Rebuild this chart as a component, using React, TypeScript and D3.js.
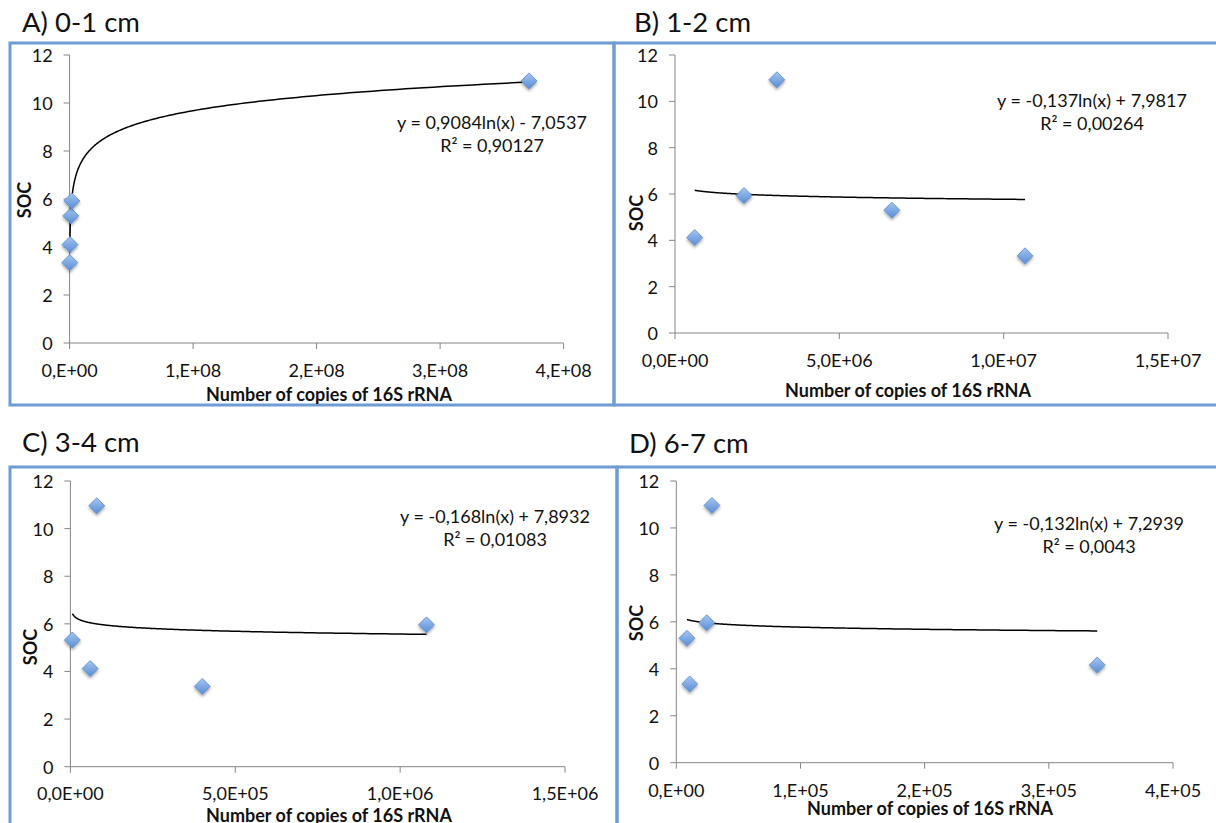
import * as d3 from "d3";

// SOC vs number of copies of 16S rRNA, four soil depths
const Y_TICKS = [0, 2, 4, 6, 8, 10, 12];

const A_COPIES = [1.5e5, 3.0e5, 1.0e6, 1.8e6, 3.72e8];
const A_SOC = [3.35, 4.1, 5.3, 5.92, 10.92];
const A_FIT = [0.9084, -7.0537];
const A_X_TICKS = [0, 1e8, 2e8, 3e8, 4e8];
const A_X_LABELS = ["0,E+00", "1,E+08", "2,E+08", "3,E+08", "4,E+08"];

const B_COPIES = [6.0e5, 2.1e6, 3.1e6, 6.6e6, 1.065e7];
const B_SOC = [4.12, 5.93, 10.93, 5.3, 3.33];
const B_FIT = [-0.137, 7.9817];
const B_X_TICKS = [0, 5e6, 1e7, 1.5e7];
const B_X_LABELS = ["0,0E+00", "5,0E+06", "1,0E+07", "1,5E+07"];

const C_COPIES = [6.0e3, 6.0e4, 8.0e4, 4.0e5, 1.08e6];
const C_SOC = [5.32, 4.12, 10.96, 3.37, 5.96];
const C_FIT = [-0.168, 7.8932];
const C_X_TICKS = [0, 5e5, 1e6, 1.5e6];
const C_X_LABELS = ["0,0E+00", "5,0E+05", "1,0E+06", "1,5E+06"];

const D_COPIES = [8.6e3, 1.08e4, 2.45e4, 2.87e4, 3.39e5];
const D_SOC = [5.3, 3.35, 5.96, 10.96, 4.16];
const D_FIT = [-0.132, 7.2939];
const D_X_TICKS = [0, 1e5, 2e5, 3e5, 4e5];
const D_X_LABELS = ["0,E+00", "1,E+05", "2,E+05", "3,E+05", "4,E+05"];

const TITLES = ["A) 0-1 cm", "B) 1-2 cm", "C) 3-4 cm", "D) 6-7 cm"];
const EQUATIONS = [
  "y = 0,9084ln(x) - 7,0537",
  "y = -0,137ln(x) + 7,9817",
  "y = -0,168ln(x) + 7,8932",
  "y = -0,132ln(x) + 7,2939",
];
const R2_LABELS = ["R² = 0,90127", "R² = 0,00264", "R² = 0,01083", "R² = 0,0043"];

const FONT = "Lato, 'Open Sans', sans-serif";
const FRAME = "#6d9dd3";
const AXIS = "#868686";

interface Layout {
  frame: [number, number, number, number];
  plot: { left: number; right: number; top: number; bottom: number };
  title: [number, number];
  soc: [number, number];
  xTitle: [number, number];
  tickY: number;
  eq: [number, number];
}

const layouts: Layout[] = [
  {
    frame: [10, 43, 604, 362],
    plot: { left: 69.6, right: 563.6, top: 55, bottom: 343 },
    title: [22, 32],
    soc: [24, 200],
    xTitle: [329, 394],
    tickY: 370,
    eq: [492, 122],
  },
  {
    frame: [614, 43, 610, 362],
    plot: { left: 675, right: 1168, top: 55, bottom: 333 },
    title: [634, 32],
    soc: [636, 213],
    xTitle: [908, 390],
    tickY: 360,
    eq: [1092, 100],
  },
  {
    frame: [10, 467, 607, 370],
    plot: { left: 70.4, right: 565, top: 481, bottom: 766.7 },
    title: [22, 452],
    soc: [30, 647],
    xTitle: [329, 815],
    tickY: 793,
    eq: [495, 516],
  },
  {
    frame: [617, 467, 607, 370],
    plot: { left: 676.3, right: 1173, top: 481, bottom: 762.7 },
    title: [629, 453],
    soc: [636, 623],
    xTitle: [930, 808],
    tickY: 790,
    eq: [1089, 523],
  },
];

const panels = [
  { copies: A_COPIES, soc: A_SOC, fit: A_FIT, ticks: A_X_TICKS, labels: A_X_LABELS },
  { copies: B_COPIES, soc: B_SOC, fit: B_FIT, ticks: B_X_TICKS, labels: B_X_LABELS },
  { copies: C_COPIES, soc: C_SOC, fit: C_FIT, ticks: C_X_TICKS, labels: C_X_LABELS },
  { copies: D_COPIES, soc: D_SOC, fit: D_FIT, ticks: D_X_TICKS, labels: D_X_LABELS },
];

const Panel = ({ i }: { i: number }) => {
  const L = layouts[i];
  const P = panels[i];
  const { left, right, top, bottom } = L.plot;

  const x = d3
    .scaleLinear()
    .domain([0, P.ticks[P.ticks.length - 1]])
    .range([left, right]);
  const y = d3.scaleLinear().domain([0, 12]).range([bottom, top]);

  // logarithmic trendline from the printed equation, between min and max x
  const [x0, x1] = d3.extent(P.copies) as [number, number];
  const trend = d3.range(0, 301).map((k) => x0 * Math.pow(x1 / x0, k / 300));
  const line = d3
    .line<number>()
    .x((v) => x(v))
    .y((v) => y(P.fit[0] * Math.log(v) + P.fit[1]));

  const [fx, fy, fw, fh] = L.frame;

  return (
    <g>
      <text x={L.title[0]} y={L.title[1]} fontSize={27.5} fill="#111" fontFamily={FONT}>
        {TITLES[i]}
      </text>
      <rect x={fx} y={fy} width={fw} height={fh} fill="none" stroke={FRAME} strokeWidth={3} />

      {/* y axis */}
      <line x1={left} x2={left} y1={top} y2={bottom} stroke={AXIS} />
      {Y_TICKS.map((t) => (
        <g key={t}>
          <line x1={left - 6} x2={left} y1={y(t)} y2={y(t)} stroke={AXIS} />
          <text
            x={left - 17}
            y={y(t)}
            textAnchor="end"
            dominantBaseline="central"
            fontSize={18}
            fontFamily={FONT}
            fill="#111"
          >
            {t}
          </text>
        </g>
      ))}

      {/* x axis */}
      <line x1={left} x2={right} y1={bottom} y2={bottom} stroke={AXIS} />
      {P.ticks.map((t, k) => (
        <g key={t}>
          <line x1={x(t)} x2={x(t)} y1={bottom} y2={bottom + 6} stroke={AXIS} />
          <text
            x={x(t)}
            y={L.tickY}
            textAnchor="middle"
            dominantBaseline="central"
            fontSize={18}
            fontFamily={FONT}
            fill="#111"
          >
            {P.labels[k]}
          </text>
        </g>
      ))}

      <text
        x={L.xTitle[0]}
        y={L.xTitle[1]}
        textAnchor="middle"
        dominantBaseline="central"
        fontSize={18}
        fontWeight="bold"
        fontFamily={FONT}
        fill="#111"
      >
        Number of copies of 16S rRNA
      </text>
      <text
        transform={`translate(${L.soc[0]},${L.soc[1]}) rotate(-90)`}
        textAnchor="middle"
        dominantBaseline="central"
        fontSize={18}
        fontWeight="bold"
        fontFamily={FONT}
        fill="#111"
      >
        SOC
      </text>

      <path d={line(trend) ?? ""} fill="none" stroke="#000" strokeWidth={1.5} />

      {P.copies.map((c, k) => {
        const cx = x(c);
        const cy = y(P.soc[k]);
        const r = 8;
        return (
          <path
            key={k}
            d={`M${cx},${cy - r}L${cx + r},${cy}L${cx},${cy + r}L${cx - r},${cy}Z`}
            fill="url(#mk)"
            stroke="#5a8ccc"
            strokeWidth={0.8}
            filter="url(#sh)"
          />
        );
      })}

      <text
        x={L.eq[0]}
        y={L.eq[1]}
        textAnchor="middle"
        dominantBaseline="central"
        fontSize={18}
        fontFamily={FONT}
        fill="#111"
      >
        {EQUATIONS[i]}
      </text>
      <text
        x={L.eq[0]}
        y={L.eq[1] + 23}
        textAnchor="middle"
        dominantBaseline="central"
        fontSize={18}
        fontFamily={FONT}
        fill="#111"
      >
        {R2_LABELS[i]}
      </text>
    </g>
  );
};

const App = () => {
  return (
    <svg
      width={1216}
      height={823}
      style={{ position: "absolute", left: 0, top: 0, display: "block", background: "#fff" }}
    >
      <defs>
        <linearGradient id="mk" x1="0" y1="0" x2="0" y2="1">
          <stop offset="0%" stopColor="#a9c6ee" />
          <stop offset="55%" stopColor="#7aa6e2" />
          <stop offset="100%" stopColor="#5b8dd4" />
        </linearGradient>
        <filter id="sh" x="-50%" y="-50%" width="200%" height="200%">
          <feDropShadow dx="0" dy="2" stdDeviation="1.5" floodColor="#000" floodOpacity="0.35" />
        </filter>
      </defs>
      {layouts.map((_, i) => (
        <Panel key={i} i={i} />
      ))}
    </svg>
  );
};

export default App;
